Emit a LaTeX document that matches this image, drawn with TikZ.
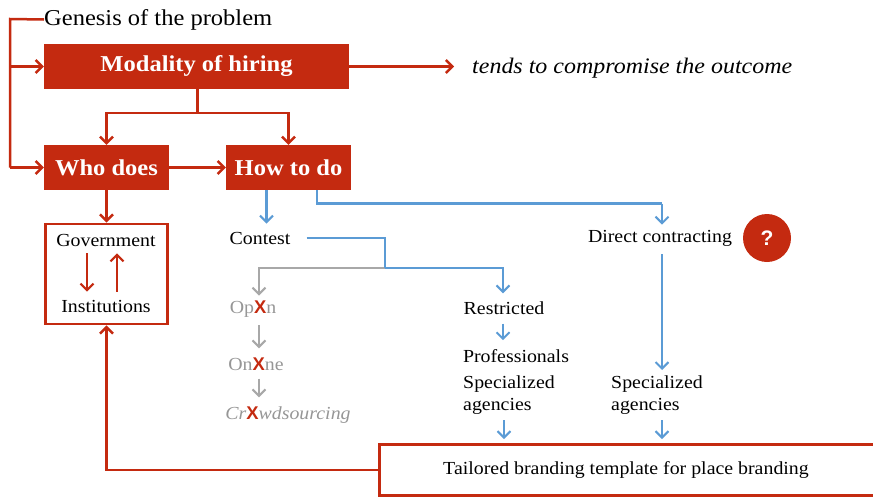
\documentclass[tikz,border=0pt]{standalone}
\usepackage{fontspec}
\setmainfont[FakeStretch=1.08]{Liberation Serif}
\newfontfamily\crossfont{Liberation Sans}
\usetikzlibrary{arrows.meta}
\definecolor{brandred}{RGB}{196,42,16}
\definecolor{flowblue}{RGB}{91,155,213}
\definecolor{dropgrey}{RGB}{168,168,168}
\definecolor{greytext}{RGB}{150,150,150}
\newcommand{\strike}{\textcolor{brandred}{\crossfont\upshape\bfseries X}}
\tikzset{
  redbox/.style={fill=brandred, text=white, inner sep=0pt, minimum height=45pt,
    font=\bfseries\fontsize{22.7}{26}\selectfont},
  outlinebox/.style={draw=brandred, line width=2.8pt, inner sep=0pt},
  txt/.style={inner sep=0pt, font=\fontsize{18.4}{22}\selectfont},
  greytxt/.style={txt, text=greytext},
  tip/.style={-{Straight Barb[length=6.5pt,width=13pt]}},
  redline/.style={draw=brandred, line width=2.5pt},
  redarrow/.style={redline, tip},
  blueline/.style={draw=flowblue, line width=2.1pt},
  bluearrow/.style={blueline, tip},
  greyarrow/.style={draw=dropgrey, line width=2.1pt, tip},
}
\begin{document}
\begin{tikzpicture}[x=1pt,y=-1pt]
\useasboundingbox (0,0) rectangle (873,498);
\clip (0,0) rectangle (873,498);

% top level
\node[txt, anchor=west, font=\fontsize{22.7}{26}\selectfont] (genesis) at (44,19.5) {Genesis of the problem};
\node[redbox, minimum width=305pt] (mod) at (196.5,66.5) {Modality of hiring};
\node[txt, anchor=west, font=\itshape\fontsize{22.2}{26}\selectfont] (tends) at (472,68) {tends to compromise the outcome};
\node[redbox, minimum width=125pt] (who) at (106.5,167.5) {Who does};
\node[redbox, minimum width=125pt] (how) at (288.5,167.5) {How to do};

% who does
\node[outlinebox, minimum width=122pt, minimum height=100pt] (govbox) at (106.5,274) {};
\node[txt] (gov) at (106,240) {Government};
\node[txt] (inst) at (106,306) {Institutions};

% how to do
\node[txt] (contest) at (260,238) {Contest};
\node[txt] (direct) at (660,238) {Direct contracting};
\node[circle, fill=brandred, minimum size=48pt, inner sep=0pt, text=white,
      font=\crossfont\bfseries\fontsize{21}{21}\selectfont] (query) at (767,238) {?};

\node[greytxt] (open) at (253,309) {Op\strike n};
\node[greytxt] (online) at (256,364) {On\strike ne};
\node[greytxt, font=\itshape\fontsize{18.4}{22}\selectfont] (crowd) at (288,415) {Cr\strike wdsourcing};

\node[txt] (restricted) at (504,308) {Restricted};
\node[txt] (prof) at (516,356) {Professionals};
\node[txt, anchor=north west, align=left, font=\fontsize{18.4}{22}\selectfont] (specA) at (463,376) {Specialized\\agencies};
\node[txt, anchor=north west, align=left, font=\fontsize{18.4}{22}\selectfont] (specB) at (611,376) {Specialized\\agencies};

\node[outlinebox, minimum width=540pt, minimum height=51pt, anchor=west] (tailor) at (378,470) {};
\node[txt] (tailortext) at (626,470) {Tailored branding template for place branding};

% red connectors
\coordinate (railtop) at (10,19);
\coordinate (railend) at (10,167.5);
\coordinate (split) at (197.5,113);
\draw[redline] (genesis.west) -- (railtop) -- (railend);
\draw[redarrow] (railtop |- mod.west) -- (mod.west);
\draw[redarrow] (railend) -- (who.west);
\draw[redarrow] (mod.east) -- ++(105,0);
\draw[redline] (split |- mod.south) -- (split);
\draw[redarrow] (split) -| (who.north);
\draw[redarrow] (split) -| (how.north);
\draw[redarrow] (who.east) -- (how.west);
\draw[redarrow] (who.south) -- (govbox.north);
\draw[redarrow, line width=2.2pt, shorten <=7pt, shorten >=8pt] ([xshift=-19pt]gov.south) -- ([xshift=-19pt]gov.south |- inst.north);
\draw[redarrow, line width=2.2pt, shorten <=8pt, shorten >=7pt] ([xshift=11pt]gov.south |- inst.north) -- ([xshift=11pt]gov.south);
\draw[redarrow] (tailor.west) -| (govbox.south);

% grey (discarded) branch
\coordinate (cfork) at (385,268);
\draw[greyarrow, shorten >=5pt] (cfork) -| ([xshift=6pt]open.north);
\draw[greyarrow, shorten <=8pt, shorten >=9pt] ([xshift=6pt]open.south) -- ([xshift=6pt]open.south |- online.north);
\draw[greyarrow, shorten <=8pt, shorten >=9pt] ([xshift=3pt]online.south) -- ([xshift=3pt]online.south |- crowd.north);

% blue connectors
\coordinate (dtop) at (662,203.5);
\draw[bluearrow, shorten >=8pt] ([xshift=-22pt]how.south) -- ([xshift=-22pt]how.south |- contest.north);
\draw[blueline] ([xshift=28.5pt]how.south) |- (dtop);
\draw[bluearrow, shorten >=5pt] (dtop) -- (dtop |- direct.north);
\draw[blueline, shorten <=16pt] (contest.east) -| (cfork);
\draw[bluearrow, shorten >=8pt] (cfork) -| ([xshift=-1pt]restricted.north);
\draw[bluearrow, shorten <=9pt, shorten >=9pt] ([xshift=-1pt]restricted.south) -- ([xshift=-1pt]restricted.south |- prof.north);
\draw[bluearrow, shorten <=8pt, shorten >=6pt] (direct.south -| dtop) -- (dtop |- specB.north);
\draw[bluearrow, shorten <=5pt, shorten >=4pt] (specA.south -| restricted.south) -- (restricted.south |- tailor.north);
\draw[bluearrow, shorten <=5pt, shorten >=4pt] (specB.south -| dtop) -- (dtop |- tailor.north);
\end{tikzpicture}
\end{document}
